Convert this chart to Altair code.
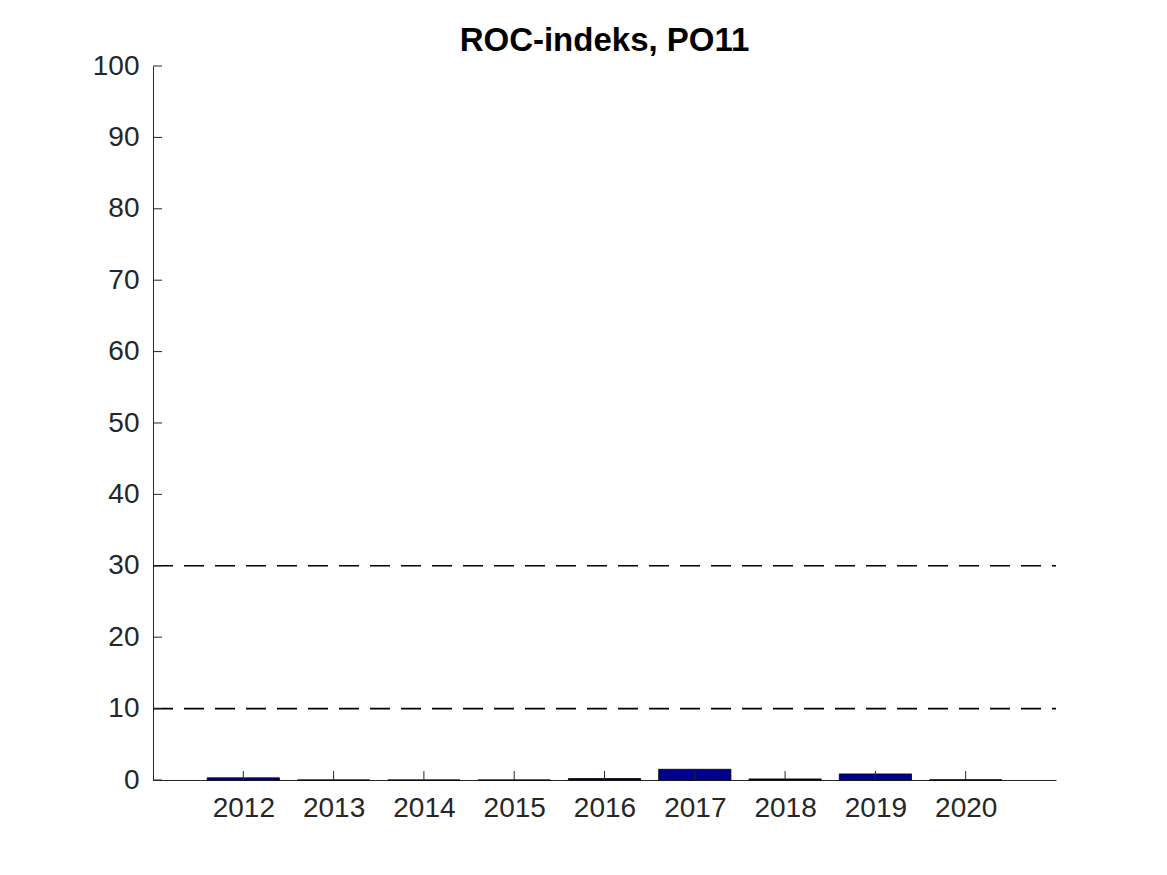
import altair as alt
import pandas as pd

years = [2012, 2013, 2014, 2015, 2016, 2017, 2018, 2019, 2020]
values = [0.3, 0.0, 0.0, 0.0, 0.2, 1.5, 0.15, 0.85, 0.03]
ref_lines = [10, 30]
y_ticks = [0, 10, 20, 30, 40, 50, 60, 70, 80, 90, 100]

W, H = 903, 714
FONT = "Liberation Sans"

df = pd.DataFrame({"year": years, "value": values})
ref = pd.DataFrame({"v": ref_lines})
yt = pd.DataFrame({"v": y_ticks})
xt = pd.DataFrame({"year": years})

xscale = alt.Scale(domain=[2011, 2021], nice=False, zero=False)
yscale = alt.Scale(domain=[0, 100], nice=False)

bars = alt.Chart(df).transform_calculate(
    x0="datum.year - 0.4", x1="datum.year + 0.4"
).mark_bar(color="#00008F", stroke="#000000", strokeWidth=0.8).encode(
    x=alt.X("x0:Q", scale=xscale, axis=alt.Axis(
        values=years, format="d", tickSize=0, labelPadding=14, labelFontSize=28,
        labelFont=FONT, labelColor="#262626", domainColor="#262626", grid=False,
        title=None, domainWidth=1)),
    x2="x1:Q",
    y=alt.Y("value:Q", scale=yscale, axis=alt.Axis(
        values=y_ticks, tickSize=0, labelPadding=14, labelFontSize=28,
        labelFont=FONT, labelColor="#262626", domainColor="#262626", grid=False,
        title=None, domainWidth=1)),
    y2=alt.datum(0),
)

rules = alt.Chart(ref).mark_rule(color="black", strokeWidth=1.6, strokeDash=[20, 11]).encode(
    y=alt.Y("v:Q", scale=yscale),
    x=alt.value(0), x2=alt.value(W),
)

ytick_marks = alt.Chart(yt).mark_rule(color="#262626", strokeWidth=1).encode(
    y=alt.Y("v:Q", scale=yscale),
    x=alt.value(0), x2=alt.value(9),
)

xtick_marks = alt.Chart(xt).mark_rule(color="#262626", strokeWidth=1).encode(
    x=alt.X("year:Q", scale=xscale),
    y=alt.value(H), y2=alt.value(H - 9),
)

chart = alt.layer(bars, rules, ytick_marks, xtick_marks).properties(
    width=W, height=H,
    title=alt.TitleParams("ROC-indeks, PO11", fontSize=33, font=FONT, fontWeight="bold",
                          color="black", anchor="middle", offset=-6),
    autosize=alt.AutoSizeParams(type="none"),
    padding={"left": 145, "top": 58, "right": 100, "bottom": 80},
    background="white",
).configure_view(strokeWidth=0, stroke="transparent")

chart.save("out.html", embed_options={"renderer": "svg", "actions": False})
